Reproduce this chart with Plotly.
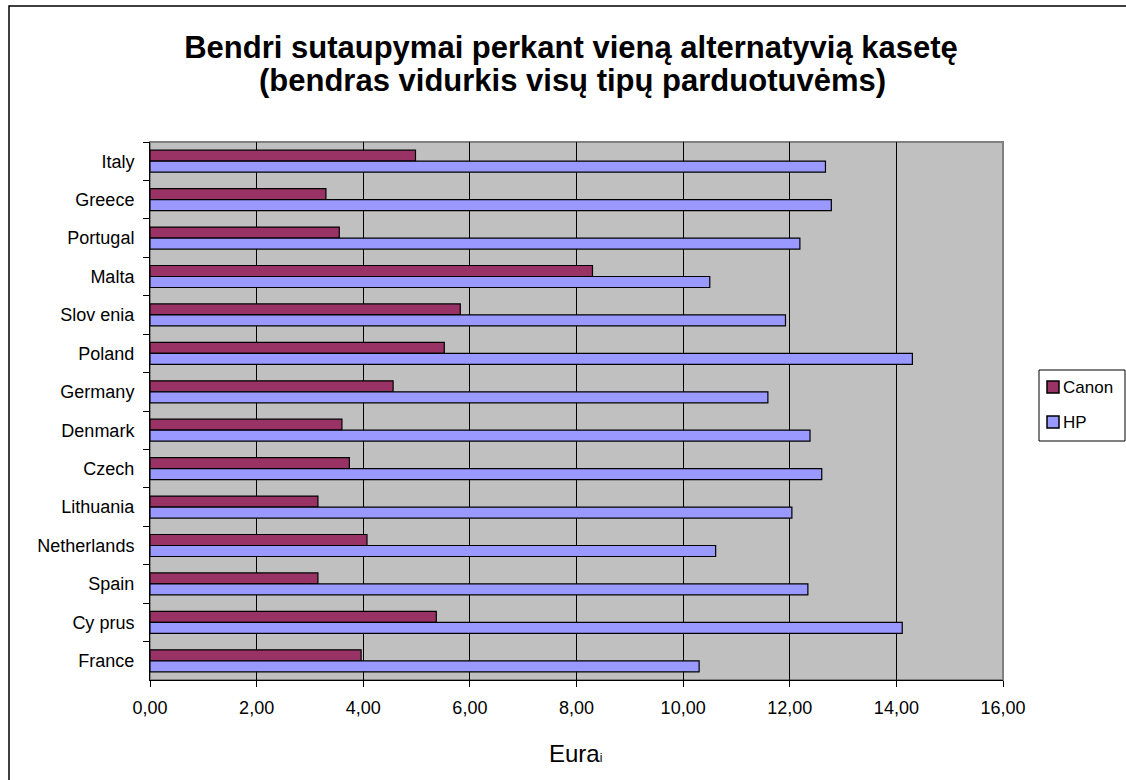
import plotly.graph_objects as go

countries = ["Italy", "Greece", "Portugal", "Malta", "Slov enia", "Poland", "Germany",
             "Denmark", "Czech", "Lithuania", "Netherlands", "Spain", "Cy prus", "France"]
canon = [4.98, 3.30, 3.55, 8.30, 5.82, 5.52, 4.56, 3.60, 3.74, 3.15, 4.07, 3.15, 5.37, 3.96]
hp = [12.67, 12.78, 12.19, 10.50, 11.92, 14.30, 11.59, 12.38, 12.60, 12.04, 10.61, 12.34, 14.11, 10.30]
x_ticks = [0, 2, 4, 6, 8, 10, 12, 14, 16]
series_names = ["Canon", "HP"]
series_colors = ["#993366", "#9999FF"]

FONT = "Arial, Liberation Sans, sans-serif"
W, H = 1126, 780
L, R, T, B = 150, 123, 142, 100
PW, PH = W - L - R, H - T - B

def px(x):
    return (x - L) / PW

def py(y):
    return (H - B - y) / PH

fig = go.Figure()
for name, vals, col in zip(series_names, [canon, hp], series_colors):
    fig.add_trace(go.Bar(y=countries, x=vals, name=name, orientation="h",
                         marker=dict(color=col, line=dict(color="black", width=1.2))))

fig.update_layout(
    width=W, height=H,
    margin=dict(l=L, r=R, t=T, b=B, autoexpand=False),
    paper_bgcolor="white",
    plot_bgcolor="#C0C0C0",
    barmode="group",
    bargap=0.427,
    bargroupgap=0,
    separators=", ",
    font=dict(family=FONT, color="black", size=17),
    title=dict(text="<b>Bendri sutaupymai perkant vieną alternatyvią kasetę</b>",
               x=571 / W, xref="container", xanchor="center",
               y=1 - 47 / H, yref="container", yanchor="middle",
               font=dict(family=FONT, size=31, color="black")),
    showlegend=False,
)

fig.update_xaxes(range=[0, 16], tickvals=x_ticks, tickformat=".2f",
                 showgrid=True, gridcolor="black", gridwidth=1,
                 showline=True, linecolor="black", linewidth=1,
                 ticks="outside", ticklen=6, tickcolor="black",
                 ticklabelstandoff=5,
                 tickfont=dict(family=FONT, size=18, color="black"),
                 zeroline=False, fixedrange=True)
fig.update_yaxes(autorange="reversed", categoryorder="array", categoryarray=countries,
                 showgrid=False, showline=True, linecolor="black", linewidth=1,
                 ticks="outside", ticklen=6, tickcolor="black", tickson="boundaries",
                 ticklabelstandoff=11,
                 tickfont=dict(family=FONT, size=18, color="black"),
                 zeroline=False, fixedrange=True)

# second title line
fig.add_annotation(text="<b>(bendras vidurkis visų tipų parduotuvėms)</b>",
                   xref="paper", yref="paper", x=px(572), y=py(81),
                   xanchor="center", yanchor="middle", showarrow=False,
                   font=dict(family=FONT, size=31, color="black"))

# plot area border (top/right gray)
fig.add_shape(type="rect", xref="paper", yref="paper", x0=0, x1=1, y0=0, y1=1,
              line=dict(color="#808080", width=2), layer="below")
# outer chart border
fig.add_shape(type="rect", xref="paper", yref="paper",
              x0=px(9), x1=px(1140), y0=py(800), y1=py(6),
              line=dict(color="black", width=1.5), layer="above")

# legend box (drawn manually to keep its exact placement at the right edge)
fig.add_shape(type="rect", xref="paper", yref="paper",
              x0=px(1039), x1=px(1125), y0=py(441), y1=py(370),
              line=dict(color="black", width=1), fillcolor="white", layer="above")
for i, (name, col) in enumerate(zip(series_names, series_colors)):
    cy = 387 + 35 * i
    fig.add_shape(type="rect", xref="paper", yref="paper",
                  x0=px(1047), x1=px(1059), y0=py(cy + 6), y1=py(cy - 6),
                  line=dict(color="black", width=1.5), fillcolor=col, layer="above")
    fig.add_annotation(text=name, xref="paper", yref="paper", x=px(1061), y=py(cy),
                       xanchor="left", yanchor="middle", showarrow=False,
                       font=dict(family=FONT, size=17, color="black"))

fig.add_annotation(text="Eura<span style='font-size:12px'>i</span>",
                   xref="paper", yref="paper", x=px(575), y=py(753),
                   xanchor="center", yanchor="middle", showarrow=False,
                   font=dict(family=FONT, size=24, color="black"))

fig.write_html("out.html", config={"displayModeBar": False},
               post_script="document.body.style.margin='0';document.body.style.overflow='hidden';")
